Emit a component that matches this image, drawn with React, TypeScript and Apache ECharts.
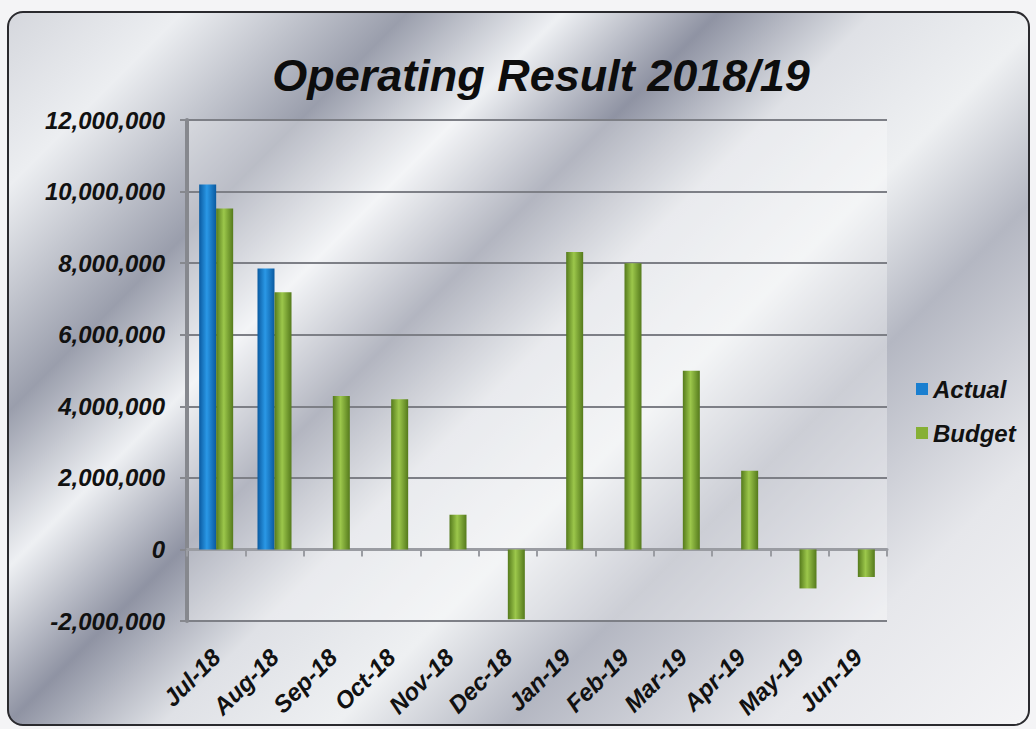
import React, { useEffect, useRef } from "react";
import * as echarts from "echarts";

const categories = ["Jul-18", "Aug-18", "Sep-18", "Oct-18", "Nov-18", "Dec-18", "Jan-19", "Feb-19", "Mar-19", "Apr-19", "May-19", "Jun-19"];
const actual: (number | null)[] = [10200000, 7850000, null, null, null, null, null, null, null, null, null, null];
const budget: number[] = [9530000, 7190000, 4290000, 4200000, 970000, -1950000, 8310000, 8000000, 4990000, 2200000, -1090000, -770000];
const yMin = -2000000;
const yMax = 12000000;
const yInterval = 2000000;

const FONT = "'Liberation Sans', Arial, sans-serif";

const cyl = (edge: string, mid: string) =>
  new echarts.graphic.LinearGradient(0, 0, 1, 0, [
    { offset: 0, color: edge },
    { offset: 0.45, color: mid },
    { offset: 1, color: edge },
  ]);

export default function App() {
  const ref = useRef<HTMLDivElement>(null);
  useEffect(() => {
    if (!ref.current) return;
    const chart = echarts.init(ref.current, undefined, { renderer: "svg" });
    chart.setOption({
      animation: false,
      backgroundColor: "transparent",
      title: {
        text: "Operating Result 2018/19",
        left: 536,
        textAlign: "center",
        top: 48,
        textStyle: { fontFamily: FONT, fontSize: 45, fontWeight: "bold", fontStyle: "italic", color: "#0d0d0d" },
      },
      legend: {
        orient: "vertical",
        left: 911,
        top: 372,
        itemWidth: 12,
        itemHeight: 12,
        itemGap: 20,
        icon: "rect",
        textStyle: { fontFamily: FONT, fontSize: 24, fontWeight: "bold", fontStyle: "italic", color: "#111" },
        data: [
          { name: "Actual", itemStyle: { color: "#1a7fd0" } },
          { name: "Budget", itemStyle: { color: "#86b035" } },
        ],
      },
      grid: {
        left: 187,
        right: 149,
        top: 120,
        bottom: 108,
        show: true,
        borderWidth: 0,
        containLabel: false,
        outerBoundsMode: "none",
        backgroundColor: "rgba(255,255,255,0.32)",
      },
      xAxis: {
        type: "category",
        data: categories,
        axisLine: { onZero: true, lineStyle: { color: "#9a9ca2", width: 3 } },
        axisTick: { show: true, length: 7, lineStyle: { color: "#9a9ca2", width: 2 } },
        axisLabel: {
          rotate: 45,
          margin: 32,
          interval: 0,
          fontFamily: FONT,
          fontSize: 24,
          fontWeight: "bold",
          fontStyle: "italic",
          color: "#111",
        },
        splitLine: { show: false },
      },
      yAxis: {
        type: "value",
        min: yMin,
        max: yMax,
        interval: yInterval,
        axisLine: { show: true, lineStyle: { color: "#86888e", width: 4 } },
        axisTick: { show: true, length: 7, lineStyle: { color: "#86888e", width: 2 } },
        axisLabel: {
          margin: 22,
          fontFamily: FONT,
          fontSize: 24,
          fontWeight: "bold",
          fontStyle: "italic",
          color: "#111",
          formatter: (v: number) => v.toLocaleString("en-US"),
        },
        splitLine: { show: true, lineStyle: { color: "#7d7f86", width: 2 } },
      },
      series: [
        {
          name: "Actual",
          type: "bar",
          data: actual,
          barWidth: 17,
          barGap: "0%",
          itemStyle: { color: cyl("#0a5aa0", "#2a98e6") },
        },
        {
          name: "Budget",
          type: "bar",
          data: budget,
          barWidth: 17,
          barGap: "0%",
          itemStyle: { color: cyl("#557a1c", "#9cc74b") },
        },
      ],
    });
    return () => chart.dispose();
  }, []);

  return (
    <div style={{ position: "fixed", left: 0, top: 0, width: 1036, height: 729, background: "#f4f4f6" }}>
      <div
        style={{
          position: "absolute",
          left: 7,
          top: 11,
          width: 1019,
          height: 711,
          border: "2px solid #2a2a2e",
          borderRadius: 16,
          background:
            "linear-gradient(135deg, #d5d7dd 0%, #eceef1 10%, #9a9eac 23%, #eef0f3 32%, #8f93a3 41%, #dfe1e6 50%, #eef0f2 60%, #b4b7c2 70%, #e6e7eb 85%, #f4f4f6 100%)",
        }}
      />
      <div ref={ref} style={{ position: "absolute", left: 0, top: 0, width: 1036, height: 729 }} />
    </div>
  );
}
